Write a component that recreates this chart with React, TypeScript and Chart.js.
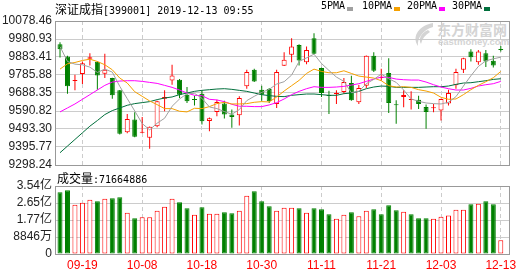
import React, { useEffect, useRef } from 'react';
import { Chart, registerables } from 'chart.js';

Chart.register(...registerables);

// ---------------- data ----------------
const dates = [
  '09-16', '09-17', '09-18', '09-19', '09-20', '09-23', '09-24', '09-25', '09-26', '09-27',
  '09-30', '10-08', '10-09', '10-10', '10-11', '10-14', '10-15', '10-16', '10-17', '10-18',
  '10-21', '10-22', '10-23', '10-24', '10-25', '10-28', '10-29', '10-30', '10-31', '11-01',
  '11-04', '11-05', '11-06', '11-07', '11-08', '11-11', '11-12', '11-13', '11-14', '11-15',
  '11-18', '11-19', '11-20', '11-21', '11-22', '11-25', '11-26', '11-27', '11-28', '11-29',
  '12-02', '12-03', '12-04', '12-05', '12-06', '12-09', '12-10', '12-11', '12-12', '12-13',
];

const opens = [
  9952.6, 9886.1, 9753.1, 9790.8, 9873.5, 9857.3, 9792.6, 9769.3, 9702.7, 9476.2,
  9544.5, 9472.6, 9445.6, 9508.5, 9657.8, 9756.7, 9760.3, 9679.4, 9654.2, 9684.7,
  9537.3, 9585.9, 9630.8, 9571.5, 9567.9, 9724.3, 9814.2, 9706.3, 9709.9, 9629.0,
  9835.8, 9895.1, 9949.0, 9855.5, 9985.0, 9823.2, 9675.8, 9682.9, 9693.7, 9742.3,
  9638.0, 9727.9, 9889.7, 9769.3, 9796.2, 9625.4, 9666.8, 9650.6, 9652.4, 9612.8,
  9605.6, 9593.1, 9630.8, 9729.7, 9814.2, 9913.1, 9855.5, 9904.1, 9862.7, 9923.8,
];
const highs = [
  9963.4, 9890.0, 9787.2, 9859.1, 9904.1, 9860.9, 9900.5, 9771.1, 9704.5, 9575.1,
  9584.1, 9558.9, 9506.8, 9647.0, 9702.7, 9841.1, 9763.9, 9720.7, 9674.0, 9702.7,
  9555.3, 9652.4, 9647.0, 9598.4, 9670.4, 9814.2, 9819.6, 9727.9, 9715.3, 9814.2,
  9909.5, 9985.0, 9952.6, 9940.0, 10011.9, 9826.8, 9700.9, 9702.7, 9769.3, 9781.8,
  9731.5, 9891.5, 9909.5, 9819.6, 9877.1, 9648.8, 9702.7, 9697.3, 9674.0, 9625.4,
  9629.0, 9657.8, 9706.3, 9819.6, 9878.9, 9925.6, 9922.0, 9922.0, 9889.7, 9943.6,
];
const lows = [
  9880.7, 9684.7, 9702.7, 9736.9, 9837.6, 9706.3, 9769.3, 9657.8, 9463.6, 9470.8,
  9449.0, 9470.8, 9386.3, 9503.1, 9589.5, 9733.3, 9661.4, 9634.4, 9620.0, 9517.6,
  9481.6, 9562.5, 9549.9, 9499.5, 9512.2, 9711.7, 9747.7, 9647.0, 9634.4, 9607.4,
  9834.0, 9855.5, 9837.6, 9844.7, 9898.7, 9666.8, 9575.1, 9629.0, 9684.7, 9647.0,
  9629.0, 9715.3, 9801.6, 9756.7, 9580.5, 9521.1, 9611.0, 9598.4, 9602.0, 9494.2,
  9584.1, 9539.1, 9620.0, 9711.7, 9796.2, 9859.1, 9841.1, 9828.6, 9826.8, 9913.1,
];
const closes = [
  9925.6, 9724.3, 9756.7, 9850.1, 9882.5, 9783.6, 9814.2, 9675.8, 9467.2, 9548.1,
  9451.0, 9476.2, 9504.9, 9643.4, 9666.8, 9783.6, 9679.4, 9643.4, 9650.6, 9535.5,
  9551.7, 9639.8, 9571.5, 9558.9, 9661.4, 9801.6, 9751.3, 9679.4, 9643.4, 9801.6,
  9868.1, 9940.0, 9864.5, 9922.0, 9900.5, 9688.3, 9672.2, 9688.3, 9747.7, 9648.8,
  9715.3, 9889.7, 9808.8, 9774.6, 9634.4, 9621.8, 9677.6, 9654.2, 9629.0, 9585.9,
  9609.2, 9656.0, 9688.3, 9801.6, 9877.1, 9882.5, 9913.1, 9859.1, 9837.6, 9922.0,
];

const ma5 = [
  9940.0, 9859.1, 9844.7, 9841.2, 9828.6, 9799.8, 9817.8, 9801.6, 9724.3, 9657.8,
  9591.3, 9522.9, 9488.8, 9524.7, 9551.7, 9616.4, 9656.0, 9684.7, 9686.5, 9659.6,
  9612.8, 9603.8, 9587.7, 9573.3, 9598.4, 9647.0, 9670.4, 9691.9, 9708.1, 9736.9,
  9749.5, 9785.4, 9859.1, 9878.9, 9898.7, 9848.3, 9810.6, 9774.6, 9751.3, 9690.1,
  9697.3, 9738.7, 9762.0, 9790.8, 9765.6, 9745.9, 9704.5, 9656.0, 9643.4, 9634.4,
  9630.8, 9629.0, 9638.0, 9668.6, 9726.1, 9781.8, 9832.2, 9862.7, 9873.5, 9882.5,
];
const ma10 = [
  9817.8, 9846.5, 9853.7, 9864.5, 9871.7, 9859.1, 9841.2, 9814.2, 9769.2, 9742.3,
  9695.5, 9670.4, 9645.2, 9625.4, 9603.8, 9603.8, 9589.5, 9585.9, 9605.6, 9603.8,
  9614.6, 9630.8, 9638.0, 9629.0, 9629.0, 9630.8, 9638.0, 9641.6, 9639.8, 9666.8,
  9699.1, 9727.9, 9756.7, 9794.4, 9817.8, 9805.2, 9798.0, 9798.0, 9808.8, 9794.4,
  9780.0, 9774.6, 9769.2, 9754.9, 9727.9, 9720.7, 9722.5, 9718.9, 9706.3, 9699.1,
  9688.3, 9665.0, 9654.2, 9656.0, 9679.4, 9706.3, 9729.7, 9749.5, 9771.0, 9805.2,
];
const ma20 = [
  9585.9, 9607.4, 9629.0, 9654.2, 9679.4, 9704.5, 9729.7, 9747.7, 9753.1, 9754.9,
  9754.9, 9751.3, 9745.9, 9740.5, 9729.7, 9718.9, 9704.5, 9688.3, 9675.8, 9674.0,
  9654.2, 9650.6, 9641.6, 9627.2, 9616.4, 9616.4, 9614.6, 9614.6, 9623.6, 9636.2,
  9656.0, 9679.4, 9697.3, 9711.7, 9722.5, 9718.9, 9718.9, 9720.7, 9724.3, 9731.5,
  9738.7, 9751.3, 9763.8, 9774.6, 9772.8, 9763.8, 9760.3, 9758.5, 9758.5, 9747.7,
  9733.3, 9720.7, 9711.7, 9704.5, 9704.5, 9713.5, 9726.1, 9733.3, 9738.7, 9751.3,
];
const ma30 = [
  9364.7, 9400.7, 9436.6, 9472.6, 9508.6, 9539.1, 9571.5, 9593.1, 9607.4, 9621.8,
  9630.8, 9636.2, 9641.6, 9652.4, 9661.4, 9666.8, 9679.4, 9688.3, 9697.3, 9702.7,
  9706.3, 9709.9, 9711.7, 9708.1, 9702.7, 9697.3, 9688.3, 9679.4, 9674.0, 9670.4,
  9668.6, 9675.8, 9679.4, 9682.9, 9682.9, 9679.4, 9675.8, 9675.8, 9684.7, 9688.3,
  9697.3, 9711.7, 9720.7, 9726.1, 9724.3, 9718.9, 9718.9, 9718.9, 9718.9, 9720.7,
  9722.5, 9722.5, 9726.1, 9735.1, 9742.3, 9744.1, 9749.5, 9754.9, 9762.0, 9765.6,
];

// volume in 万 (10k shares)
const volumes = [
  32090, 33130, 25670, 26710, 28270, 27400, 28790, 28970, 29490, 21510,
  18560, 19080, 19080, 22550, 24630, 28790, 26890, 23760, 20470, 24280,
  20990, 20990, 21680, 21160, 22550, 30350, 32610, 27400, 24800, 22550,
  24110, 24110, 23760, 21510, 23760, 23240, 20640, 18390, 20470, 21680,
  19600, 22550, 23240, 20640, 25320, 22720, 22030, 20640, 18560, 18560,
  18390, 19430, 19980, 23070, 23070, 25840, 26190, 27400, 25840, 7166,
];
// 1 = up day (red hollow), 0 = down day (green)
const volUp = [
  0, 0, 1, 1, 1, 0, 1, 0, 0, 1,
  0, 1, 1, 1, 1, 1, 0, 0, 1, 0,
  1, 1, 0, 0, 1, 1, 0, 0, 0, 1,
  1, 1, 0, 1, 0, 0, 0, 1, 1, 0,
  1, 1, 0, 0, 0, 0, 1, 0, 0, 0,
  1, 1, 1, 1, 1, 0, 1, 0, 0, 1,
];

const priceTicks = [9298.24, 9395.77, 9493.30, 9590.82, 9688.35, 9785.88, 9883.41, 9980.93, 10078.46];
const volTicks = [0, 8846, 17692, 26538, 35384];
const volTickLabels = ['0', '8846万', '1.77亿', '2.65亿', '3.54亿'];
const xTickIndexes = [3, 11, 19, 27, 35, 43, 51, 59];

const indexName = '深证成指';
const indexCode = '[399001] 2019-12-13 09:55';
const volTitle = '成交量';
const volTitleValue = ':71664886';
const legendItems = ['5PMA', '10PMA', '20PMA', '30PMA'];

// ---------------- styles ----------------
const W = 530;
const H = 276;
const X_MIN = -0.67;
const X_MAX = 60.1;
const RED = '#ff0000';
const GREEN = '#008000';
const MA_COLORS = ['#a0a0a0', '#f5a000', '#ff00ff', '#006f3c'];
const FONT = "'Liberation Sans', 'Noto Sans CJK SC', sans-serif";
const MONO = "'DejaVu Sans Mono', 'Noto Sans CJK SC', monospace";
const CJK = "'Noto Sans CJK SC', sans-serif";

const framePlugin = {
  id: 'frame',
  afterDraw(chart: any) {
    const { ctx, chartArea: a } = chart;
    ctx.save();
    ctx.strokeStyle = '#999999';
    ctx.lineWidth = 1;
    ctx.strokeRect(Math.round(a.left) + 0.5, Math.round(a.top) + 0.5, Math.round(a.right - a.left), Math.round(a.bottom - a.top));
    ctx.restore();
  },
};

function xScaleBase(showLabels: boolean) {
  return {
    type: 'linear',
    min: X_MIN,
    max: X_MAX,
    offset: false,
    afterBuildTicks: (s: any) => {
      s.ticks = xTickIndexes.map((v) => ({ value: v }));
    },
    ticks: {
      display: showLabels,
      autoSkip: false,
      maxRotation: 0,
      color: RED,
      font: { size: 12, family: FONT },
      padding: 4,
      callback: (v: any) => dates[Math.round(Number(v))] ?? '',
    },
    grid: { color: '#cccccc', drawTicks: false, lineWidth: 1, offset: false },
    border: { display: false, dash: [4, 3] },
    afterFit: (s: any) => {
      s.height = showLabels ? 22 : 0;
    },
  };
}

function yScale(min: number, max: number, ticks: number[], label: (v: number, i: number) => string) {
  return {
    min,
    max,
    afterBuildTicks: (s: any) => {
      s.ticks = ticks.map((v) => ({ value: v }));
    },
    ticks: {
      autoSkip: false,
      color: '#222222',
      font: { size: 12, family: FONT },
      padding: 3,
      callback: (v: any, i: number) => label(Number(v), i),
    },
    grid: { color: '#cccccc', drawTicks: false },
    border: { display: false },
    afterFit: (s: any) => {
      s.width = 55;
    },
  };
}

export default function App() {
  const priceRef = useRef<HTMLCanvasElement | null>(null);
  const volRef = useRef<HTMLCanvasElement | null>(null);

  useEffect(() => {
    Chart.defaults.font.family = FONT;
    const up = closes.map((c, i) => c >= opens[i]);

    const price = new Chart(priceRef.current as HTMLCanvasElement, {
      type: 'bar',
      data: {
        datasets: [
          ...[ma5, ma10, ma20, ma30].map((arr, k) => ({
            type: 'line' as const,
            data: arr.map((y, i) => ({ x: i, y })),
            borderColor: MA_COLORS[k],
            borderWidth: 1,
            pointRadius: 0,
            tension: 0,
            fill: false,
            order: 0,
          })),
          {
            type: 'bar' as const,
            data: opens.map((o, i) => ({ x: i, y: [o, closes[i]] })),
            backgroundColor: up.map((u) => (u ? '#ffffff' : GREEN)),
            borderColor: up.map((u) => (u ? RED : GREEN)),
            borderWidth: 1,
            borderSkipped: false,
            barThickness: 5,
            minBarLength: 1,
            grouped: false,
            inflateAmount: 0,
            order: 1,
          },
          {
            type: 'bar' as const,
            data: lows.map((l, i) => ({ x: i, y: [l, highs[i]] })),
            backgroundColor: up.map((u) => (u ? RED : GREEN)),
            borderWidth: 0,
            barThickness: 1,
            grouped: false,
            inflateAmount: 0,
            order: 2,
          },
        ] as any,
      },
      options: {
        animation: false,
        responsive: false,
        maintainAspectRatio: false,
        layout: { padding: { left: 0, right: 21, top: 21, bottom: 111 } },
        plugins: { legend: { display: false }, tooltip: { enabled: false } },
        scales: {
          x: xScaleBase(false) as any,
          y: yScale(9298.24, 10078.46, priceTicks, (v) => v.toFixed(2)) as any,
        },
      },
      plugins: [framePlugin],
    });

    const vol = new Chart(volRef.current as HTMLCanvasElement, {
      type: 'bar',
      data: {
        datasets: [
          {
            data: volumes.map((v, i) => ({ x: i, y: v })),
            backgroundColor: volUp.map((u) => (u ? '#ffffff' : GREEN)),
            borderColor: volUp.map((u) => (u ? RED : GREEN)),
            borderWidth: 1,
            borderSkipped: false,
            barThickness: 5,
            grouped: false,
            inflateAmount: 0,
          } as any,
        ],
      },
      options: {
        animation: false,
        responsive: false,
        maintainAspectRatio: false,
        layout: { padding: { left: 0, right: 21, top: 186, bottom: 0 } },
        plugins: { legend: { display: false }, tooltip: { enabled: false } },
        scales: {
          x: xScaleBase(true) as any,
          y: yScale(0, 35384, volTicks, (_v, i) => volTickLabels[i]) as any,
        },
      },
      plugins: [framePlugin],
    });

    return () => {
      price.destroy();
      vol.destroy();
    };
  }, []);

  const legendX = [321, 362, 407, 452];
  const squareX = [347, 394, 439, 484];

  return (
    <div style={{ position: 'fixed', left: 0, top: 0, width: W, height: H, background: '#ffffff', overflow: 'hidden' }}>
      {/* watermark */}
      <svg width={W} height={H} style={{ position: 'absolute', left: 0, top: 0 }}>
        <path d="M433 23 C420 25 411 36 418 46 C417 38 423 30 433 27 Z" fill="#d4d4d4" />
        <path d="M428 30 C421 33 418 39 421 44 C422 39 425 35 430 32 Z" fill="#d4d4d4" />
      </svg>
      <div style={{ position: 'absolute', left: 437, top: 20, font: `bold 14px ${CJK}`, color: '#d4d4d4', lineHeight: '18px', whiteSpace: 'nowrap' }}>东方财富网</div>
      <div style={{ position: 'absolute', left: 438, top: 36, font: `bold 9.5px ${FONT}`, color: '#d4d4d4', lineHeight: '11px', whiteSpace: 'nowrap' }}>eastmoney.com</div>

      <canvas ref={priceRef} width={W} height={H} style={{ position: 'absolute', left: 0, top: 0, width: W, height: H }} />
      <canvas ref={volRef} width={W} height={H} style={{ position: 'absolute', left: 0, top: 0, width: W, height: H }} />

      {/* header */}
      <div style={{ position: 'absolute', left: 55, top: 0, height: 16, lineHeight: '16px', whiteSpace: 'nowrap', color: '#000' }}>
        <span style={{ font: `12px ${CJK}` }}>{indexName}</span>
        <span style={{ font: `10px ${MONO}` }}>{indexCode}</span>
      </div>
      {legendItems.map((t, k) => (
        <React.Fragment key={t}>
          <div style={{ position: 'absolute', left: legendX[k], top: 0, lineHeight: '16px', font: `10px ${MONO}`, color: '#000', whiteSpace: 'nowrap' }}>{t}</div>
          <div style={{ position: 'absolute', left: squareX[k], top: 7, width: 6, height: 4, background: MA_COLORS[k] }} />
        </React.Fragment>
      ))}
      {/* volume title */}
      <div style={{ position: 'absolute', left: 57, top: 169, height: 16, lineHeight: '16px', whiteSpace: 'nowrap', color: '#000' }}>
        <span style={{ font: `12px ${CJK}` }}>{volTitle}</span>
        <span style={{ font: `10px ${MONO}` }}>{volTitleValue}</span>
      </div>
    </div>
  );
}
